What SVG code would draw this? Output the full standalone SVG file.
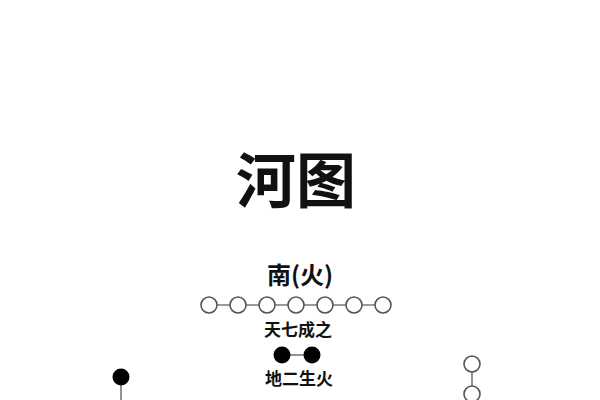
<svg xmlns="http://www.w3.org/2000/svg" width="600" height="400" viewBox="0 0 600 400">
<style>
.t{font-family:"Noto Sans CJK SC","Noto Sans CJK JP",sans-serif;font-weight:bold;fill:#111;text-anchor:middle}
.w{fill:#fff;stroke:#555;stroke-width:1.6}
.b{fill:#000}
.l{stroke:#777;stroke-width:1.6;fill:none}
</style>
<rect width="600" height="400" fill="#fff"/>
<text class="t" x="296" y="203" font-size="60">河图</text>
<text class="t" x="300" y="284" font-size="24">南(火)</text>
<text class="t" x="298" y="336" font-size="17">天七成之</text>
<text class="t" x="299" y="385" font-size="17">地二生火</text>
<g id="connectors">
<line class="l" x1="209" y1="305" x2="383" y2="305"/>
<line class="l" x1="282" y1="355" x2="312" y2="355"/>
<line class="l" x1="121" y1="377" x2="121" y2="400"/>
<line class="l" x1="472" y1="364" x2="472" y2="394"/>
</g>
<g id="south-seven">
<circle class="w" cx="209" cy="305" r="8"/>
<circle class="w" cx="238" cy="305" r="8"/>
<circle class="w" cx="267" cy="305" r="8"/>
<circle class="w" cx="296" cy="305" r="8"/>
<circle class="w" cx="325" cy="305" r="8"/>
<circle class="w" cx="354" cy="305" r="8"/>
<circle class="w" cx="383" cy="305" r="8"/>
</g>
<g id="south-two">
<circle class="b" cx="282" cy="355" r="8.5"/>
<circle class="b" cx="312" cy="355" r="8.5"/>
</g>
<g id="west-dot">
<circle class="b" cx="121" cy="377" r="8.5"/>
</g>
<g id="east-circles">
<circle class="w" cx="472" cy="364" r="8"/>
<circle class="w" cx="472" cy="394" r="8"/>
</g>
</svg>
